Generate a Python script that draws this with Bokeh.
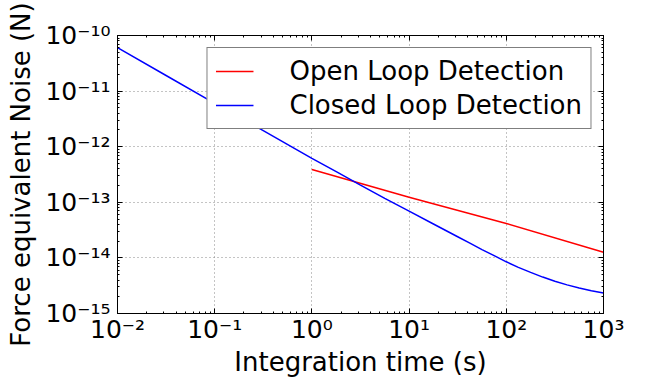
from bokeh.plotting import figure
from bokeh.models import LogAxis, FixedTicker, CustomJSTickFormatter, Legend, LegendItem
from bokeh.embed import file_html
from bokeh.resources import INLINE

# Integration time (s) and force-equivalent noise (N)
closed_t = [0.01, 0.0316, 0.1, 0.316, 1.0, 1.78, 3.16, 5.62, 10.0, 17.8, 31.6,
            42.2, 56.2, 75.0, 100.0, 133.0, 178.0, 237.0, 316.0, 422.0, 562.0,
            750.0, 1000.0]
closed_noise = [6.03e-11, 1.91e-11, 6.03e-12, 1.95e-12, 6.17e-13, 3.55e-13, 2.04e-13,
                1.175e-13, 6.92e-14, 4.07e-14, 2.40e-14, 1.84e-14, 1.41e-14, 1.10e-14,
                8.51e-15, 6.76e-15, 5.50e-15, 4.52e-15, 3.80e-15, 3.27e-15, 2.88e-15,
                2.57e-15, 2.34e-15]

open_t = [1.0, 10.0, 100.0, 1000.0]
open_noise = [3.9e-13, 1.23e-13, 4.17e-14, 1.26e-14]

x_major = [1e-2, 1e-1, 1e0, 1e1, 1e2, 1e3]
y_major = [1e-15, 1e-14, 1e-13, 1e-12, 1e-11, 1e-10]

def minors(majors):
    out = []
    for m in majors[:-1]:
        out += [m * k for k in range(2, 10)]
    return out

FONT = "DejaVu Sans"

p = figure(width=647, height=381, x_axis_type="log", y_axis_type="log",
           x_range=(1e-2, 1e3), y_range=(1e-15, 1e-10),
           output_backend="svg", toolbar_location=None,
           min_border_left=117, min_border_right=44,
           min_border_top=35, min_border_bottom=68)
p.background_fill_color = "white"
p.border_fill_color = "white"
p.outline_line_color = "black"
p.outline_line_width = 1

sup_js = """
const m = {'-':'\u207b','0':'\u2070','1':'\u00b9','2':'\u00b2','3':'\u00b3','4':'\u2074',
           '5':'\u2075','6':'\u2076','7':'\u2077','8':'\u2078','9':'\u2079'};
const e = Math.round(Math.log10(tick));
return '10' + String(e).split('').map(c => m[c]).join('');
"""
fmt = CustomJSTickFormatter(code=sup_js)
blank = CustomJSTickFormatter(code="return '';")

xt = FixedTicker(ticks=x_major, minor_ticks=minors(x_major))
yt = FixedTicker(ticks=y_major, minor_ticks=minors(y_major))

def style(ax):
    ax.major_tick_in = 5
    ax.major_tick_out = 0
    ax.minor_tick_in = 2
    ax.minor_tick_out = 0
    ax.axis_line_color = "black"
    ax.major_tick_line_color = "black"
    ax.minor_tick_line_color = "black"
    ax.major_label_text_font = FONT
    ax.major_label_text_font_size = "25px"
    ax.major_label_text_color = "black"
    ax.axis_label_text_font = FONT
    ax.axis_label_text_font_size = "26px"
    ax.axis_label_text_font_style = "normal"
    ax.axis_label_text_color = "black"

xa = p.xaxis[0]
xa.ticker = xt
xa.formatter = fmt
xa.axis_label = "Integration time (s)"
style(xa)
xa.major_label_standoff = 1
xa.axis_label_standoff = 0

ya = p.yaxis[0]
ya.ticker = yt
ya.formatter = fmt
ya.axis_label = "Force equivalent Noise (N)"
style(ya)
ya.major_label_standoff = 7
ya.axis_label_standoff = 6

top = LogAxis(ticker=xt, formatter=blank)
style(top)
p.add_layout(top, "above")
right = LogAxis(ticker=yt, formatter=blank)
style(right)
p.add_layout(right, "right")

for g in (p.xgrid[0], p.ygrid[0]):
    g.grid_line_color = "#888888"
    g.grid_line_dash = "1 3"
    g.grid_line_width = 1
p.xgrid[0].ticker = xt
p.ygrid[0].ticker = yt

r_open = p.line(open_t, open_noise, line_color="#ff0000", line_width=1.5)
r_closed = p.line(closed_t, closed_noise, line_color="#0000ff", line_width=1.5)

legend = Legend(items=[LegendItem(label="Open Loop Detection", renderers=[r_open]),
                       LegendItem(label="Closed Loop Detection", renderers=[r_closed])],
                location="top_right")
legend.label_text_font = FONT
legend.label_text_font_size = "26px"
legend.label_text_color = "black"
legend.border_line_color = "black"
legend.border_line_width = 1
legend.background_fill_color = "white"
legend.background_fill_alpha = 1
legend.glyph_width = 38
legend.label_standoff = 36
legend.padding = 8
legend.spacing = 4
legend.label_height = 26
legend.glyph_height = 26
legend.margin = 12
p.add_layout(legend, "center")

open("out.html", "w").write(file_html(p, INLINE))
